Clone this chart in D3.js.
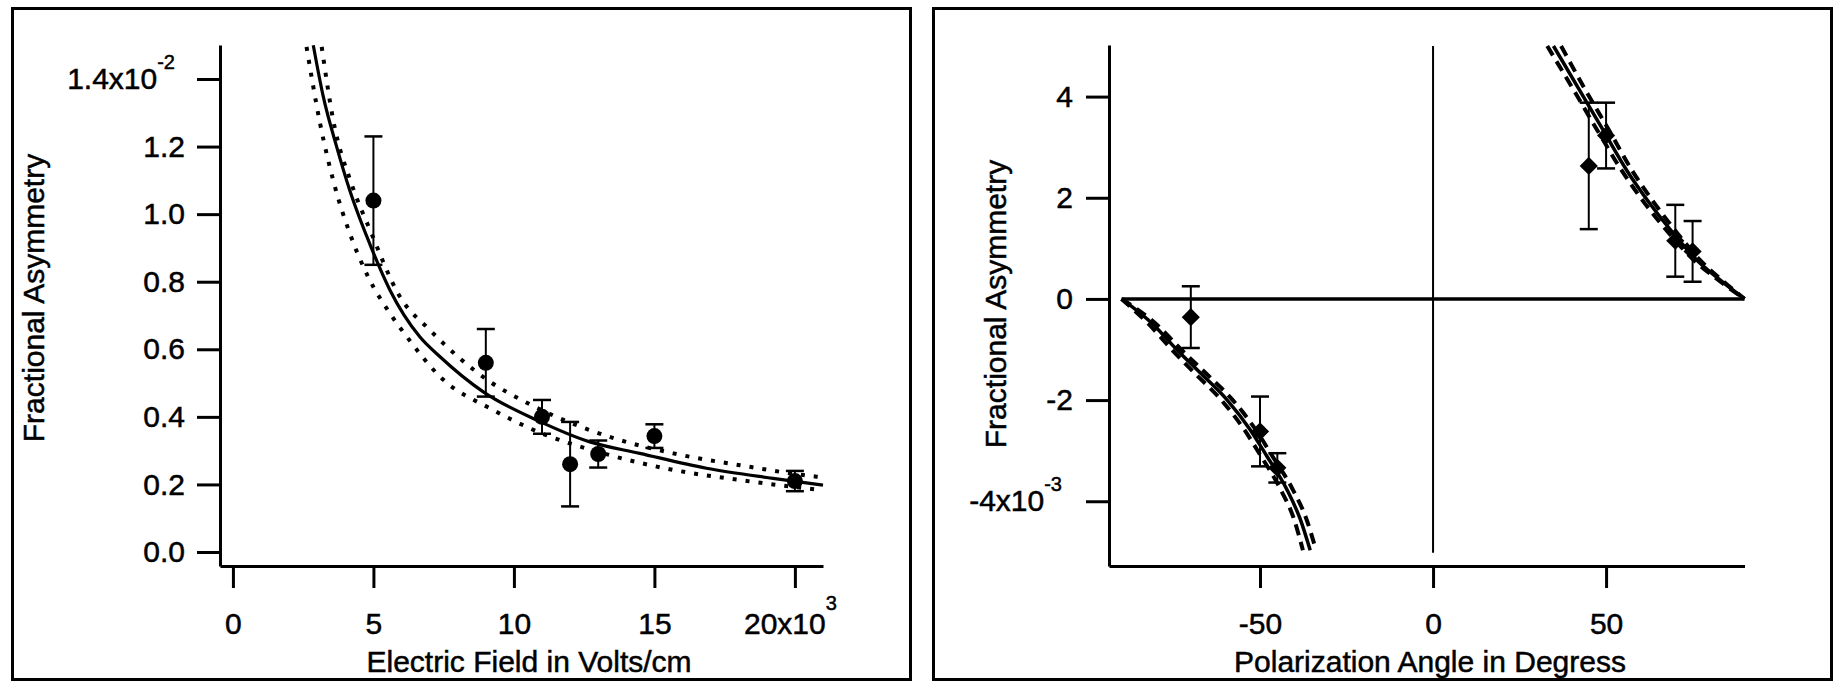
<!DOCTYPE html>
<html>
<head>
<meta charset="utf-8">
<script src="https://cdn.jsdelivr.net/npm/d3@7"></script>
<style>
  html, body { margin: 0; padding: 0; background: #fff; }
  svg { display: block; }
  text { font-family: "Liberation Sans", Arial, sans-serif; fill: #000; stroke: #000; stroke-width: 0.5px; }
</style>
</head>
<body>
<svg id="chart" width="1833" height="682"></svg>
<script>
// ---------------- Left panel data (x in 10^3 V/cm, y in 10^-2) ----------------
const fieldValues = [5, 9, 11, 12, 13, 15, 20];
const fieldAsym = [1.04, 0.56, 0.40, 0.26, 0.29, 0.343, 0.21];
const fieldErr = [0.19, 0.10, 0.05, 0.125, 0.04, 0.035, 0.03];

const fitFieldE = [2.86, 3.21, 3.69, 4.16, 4.88, 5.59, 6.65, 7.37, 8.91, 10.93, 12.7, 14.48, 16.85, 19.22, 21.0];
const fitFieldA = [1.50, 1.35, 1.20, 1.07, 0.91, 0.775, 0.637, 0.578, 0.474, 0.386, 0.326, 0.292, 0.248, 0.218, 0.198];
const upperFieldE = [3.16, 3.57, 4.22, 4.88, 5.94, 7.01, 9.15, 10.5, 13.4, 15.67, 18.04, 20.77, 21.0];
const upperFieldA = [1.495, 1.278, 1.09, 0.953, 0.756, 0.657, 0.504, 0.44, 0.341, 0.292, 0.257, 0.223, 0.221];
const lowerFieldE = [2.62, 3.1, 3.63, 4.16, 4.81, 5.59, 6.19, 7.37, 9.27, 10.57, 13.4, 15.67, 18.04, 21.0];
const lowerFieldA = [1.495, 1.269, 1.081, 0.943, 0.815, 0.706, 0.637, 0.519, 0.42, 0.366, 0.287, 0.243, 0.213, 0.183];

const fieldYTicks = [0, 0.2, 0.4, 0.6, 0.8, 1.0, 1.2, 1.4];
const fieldYLabels = ["0.0", "0.2", "0.4", "0.6", "0.8", "1.0", "1.2", "1.4x10"];
const fieldXTicks = [0, 5, 10, 15, 20];
const fieldXLabels = ["0", "5", "10", "15", "20x10"];

// ---------------- Right panel data (x in degrees, y in 10^-3) ----------------
const angleValues = [-70, -50, -45, 45, 50, 70, 75];
const angleAsym = [-0.36, -2.62, -3.34, 2.63, 3.23, 1.15, 0.94];
const angleErr = [0.61, 0.69, 0.29, 1.25, 0.65, 0.71, 0.60];

const fitLowAngle = [-90, -80.8, -74.1, -67.3, -59.6, -52.9, -48.1, -42.3, -38.4, -35.5];
const fitLowAsym = [0, -0.51, -1.0, -1.46, -1.99, -2.58, -3.1, -3.76, -4.35, -4.97];
const fitLowOuterAngle = [-90, -82, -75.5, -69, -61.3, -54.6, -49.8, -44.1, -40.2, -37.6];
const fitLowInnerAngle = [-90, -79.8, -72.8, -65.8, -58, -51.3, -46.5, -40.6, -36.6, -33.8];

const fitHighAngle = [34.8, 42.5, 49.2, 56.0, 62.7, 69.5, 76.2, 83.0, 90];
const fitHighAsym = [5.0, 4.11, 3.33, 2.54, 1.88, 1.29, 0.77, 0.37, 0];
const fitHighInnerAngle = [33, 40.8, 47.5, 54.5, 61.3, 68.3, 75.3, 82.5, 90];
const fitHighOuterAngle = [37, 44.2, 50.9, 57.5, 64.1, 70.7, 77.1, 83.5, 90];

const zeroLineAngle = [-90, 90];
const zeroLineAsym = [0, 0];
const centerLineAngle = [0, 0];
const centerLineAsym = [5.0, -5.02];

const angleYTicks = [-4, -2, 0, 2, 4];
const angleYLabels = ["-4x10", "-2", "0", "2", "4"];
const angleXTicks = [-50, 0, 50];
const angleXLabels = ["-50", "0", "50"];

// ---------------- Drawing ----------------
const svg = d3.select("#chart");
const FS = 30;

// frames
svg.append("rect").attr("x", 12.5).attr("y", 8.5).attr("width", 898).attr("height", 671)
  .attr("fill", "none").attr("stroke", "#000").attr("stroke-width", 3);
svg.append("rect").attr("x", 933.5).attr("y", 8.5).attr("width", 898).attr("height", 671)
  .attr("fill", "none").attr("stroke", "#000").attr("stroke-width", 3);

function zip(xs, ys) { return xs.map((x, i) => [x, ys[i]]); }

function styleAxis(g) {
  g.selectAll("path.domain").attr("stroke", "#000").attr("stroke-width", 3);
  g.selectAll(".tick line").attr("stroke", "#000").attr("stroke-width", 3);
  g.selectAll(".tick text").attr("font-size", FS).attr("fill", "#000")
    .style("font-family", '"Liberation Sans", Arial, sans-serif');
}

function errorBars(g, xs, ys, es, x, y, cap) {
  const eb = g.append("g");
  xs.forEach((xv, i) => {
    const px = x(xv), top = y(ys[i] + es[i]), bot = y(ys[i] - es[i]);
    eb.append("line").attr("x1", px).attr("x2", px).attr("y1", top).attr("y2", bot)
      .attr("stroke", "#000").attr("stroke-width", 2);
    [top, bot].forEach(py => eb.append("line").attr("x1", px - cap).attr("x2", px + cap)
      .attr("y1", py).attr("y2", py).attr("stroke", "#000").attr("stroke-width", 2.5));
  });
}

// ---------- Left panel ----------
{
  const x = d3.scaleLinear().domain([-0.46, 21.0]).range([220, 823]);
  const y = d3.scaleLinear().domain([-0.0414, 1.5006]).range([566, 45]);
  const g = svg.append("g");

  const line = d3.line().x(d => x(d[0])).y(d => y(d[1])).curve(d3.curveMonotoneX);
  g.append("path").datum(zip(upperFieldE, upperFieldA)).attr("d", line)
    .attr("fill", "none").attr("stroke", "#000").attr("stroke-width", 4).attr("stroke-dasharray", "4,9");
  g.append("path").datum(zip(lowerFieldE, lowerFieldA)).attr("d", line)
    .attr("fill", "none").attr("stroke", "#000").attr("stroke-width", 4).attr("stroke-dasharray", "4,9");
  g.append("path").datum(zip(fitFieldE, fitFieldA)).attr("d", line)
    .attr("fill", "none").attr("stroke", "#000").attr("stroke-width", 3.2);

  errorBars(g, fieldValues, fieldAsym, fieldErr, x, y, 9);
  g.append("g").selectAll("circle").data(fieldValues).join("circle")
    .attr("cx", d => x(d)).attr("cy", (d, i) => y(fieldAsym[i])).attr("r", 8).attr("fill", "#000");

  const ya = g.append("g").attr("transform", "translate(220,0)")
    .call(d3.axisLeft(y).tickValues(fieldYTicks).tickSize(23).tickSizeOuter(0).tickPadding(12)
      .tickFormat((d, i) => fieldYLabels[i]));
  styleAxis(ya);
  ya.selectAll(".tick text").filter((d, i) => i === fieldYTicks.length - 1)
    .attr("x", -45)
    .append("tspan").attr("font-size", 20).attr("dy", -20).text("-2");

  const xa = g.append("g").attr("transform", "translate(0,566)")
    .call(d3.axisBottom(x).tickValues(fieldXTicks).tickSize(22).tickSizeOuter(0).tickPadding(25)
      .tickFormat((d, i) => fieldXLabels[i]));
  styleAxis(xa);
  xa.selectAll(".tick text").filter((d, i) => i === fieldXTicks.length - 1)
    .attr("x", -5)
    .append("tspan").attr("font-size", 20).attr("dy", -24).text("3");

  g.append("text").attr("x", 529).attr("y", 672).attr("text-anchor", "middle")
    .attr("font-size", FS).text("Electric Field in Volts/cm");
  g.append("text").attr("transform", "translate(33,298) rotate(-90)").attr("text-anchor", "middle")
    .attr("dominant-baseline", "central").attr("font-size", FS).text("Fractional Asymmetry");
}

// ---------- Right panel ----------
{
  const x = d3.scaleLinear().domain([-93.64, 90.0]).range([1109, 1744.5]);
  const y = d3.scaleLinear().domain([-5.28, 5.02]).range([566, 45]);
  const g = svg.append("g");
  const line = d3.line().x(d => x(d[0])).y(d => y(d[1])).curve(d3.curveMonotoneX);
  const straight = d3.line().x(d => x(d[0])).y(d => y(d[1]));

  g.append("path").datum(zip(centerLineAngle, centerLineAsym)).attr("d", straight)
    .attr("stroke", "#000").attr("stroke-width", 2).attr("fill", "none");
  g.append("path").datum(zip(zeroLineAngle, zeroLineAsym)).attr("d", straight)
    .attr("stroke", "#000").attr("stroke-width", 3.5).attr("fill", "none");

  const dashed = [
    zip(fitLowOuterAngle, fitLowAsym), zip(fitLowInnerAngle, fitLowAsym),
    zip(fitHighInnerAngle, fitHighAsym), zip(fitHighOuterAngle, fitHighAsym)
  ];
  dashed.forEach(dd => g.append("path").datum(dd).attr("d", line)
    .attr("fill", "none").attr("stroke", "#000").attr("stroke-width", 4).attr("stroke-dasharray", "11,7"));
  [zip(fitLowAngle, fitLowAsym), zip(fitHighAngle, fitHighAsym)].forEach(dd =>
    g.append("path").datum(dd).attr("d", line)
      .attr("fill", "none").attr("stroke", "#000").attr("stroke-width", 3.5));

  errorBars(g, angleValues, angleAsym, angleErr, x, y, 9);
  g.append("g").selectAll("path").data(angleValues).join("path")
    .attr("d", d3.symbol().type(d3.symbolSquare).size(165))
    .attr("transform", (d, i) => `translate(${x(d)},${y(angleAsym[i])}) rotate(45)`)
    .attr("fill", "#000");

  const ya = g.append("g").attr("transform", "translate(1109,0)")
    .call(d3.axisLeft(y).tickValues(angleYTicks).tickSize(23).tickSizeOuter(0).tickPadding(13)
      .tickFormat((d, i) => angleYLabels[i]));
  styleAxis(ya);
  ya.selectAll(".tick text").filter((d, i) => i === 0)
    .attr("x", -47)
    .append("tspan").attr("font-size", 20).attr("dy", -20).text("-3");

  const xa = g.append("g").attr("transform", "translate(0,566)")
    .call(d3.axisBottom(x).tickValues(angleXTicks).tickSize(22).tickSizeOuter(0).tickPadding(25)
      .tickFormat((d, i) => angleXLabels[i]));
  styleAxis(xa);

  g.append("text").attr("x", 1430).attr("y", 672).attr("text-anchor", "middle")
    .attr("font-size", FS).text("Polarization Angle in Degress");
  g.append("text").attr("transform", "translate(995,304) rotate(-90)").attr("text-anchor", "middle")
    .attr("dominant-baseline", "central").attr("font-size", FS).text("Fractional Asymmetry");
}
</script>
</body>
</html>
